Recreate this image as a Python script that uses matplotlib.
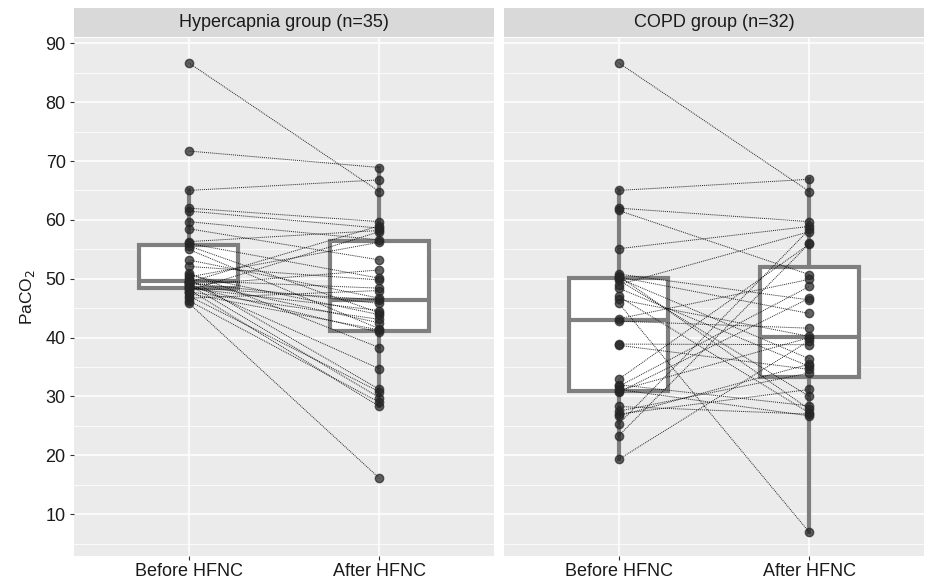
import numpy as np
import matplotlib
matplotlib.use("Agg")
from matplotlib import pyplot as plt

plt.rcParams['font.family'] = ['Liberation Sans', 'DejaVu Sans']

# 兩組病人，依病人順序配對 (Before -> After)
groups = ["Hypercapnia group (n=35)", "COPD group (n=32)"]
x_labels = ["Before HFNC", "After HFNC"]

hyper_before = [86.7, 71.7, 65.0, 62.0, 61.5, 59.7, 58.5, 56.3, 56.0, 55.6,
                55.0, 53.2, 52.1, 51.0, 50.6, 50.3, 50.0, 49.7, 49.5, 49.4,
                49.3, 49.2, 49.0, 48.9, 48.7, 48.5, 48.4, 48.2, 48.0, 47.8,
                47.5, 47.1, 46.7, 46.3, 45.9]
hyper_after = [64.8, 68.9, 66.8, 59.7, 58.6, 56.6, 53.2, 58.2, 50.1, 44.2,
               41.5, 46.7, 49.8, 38.3, 43.9, 56.2, 31.2, 48.4, 42.5, 59.0,
               45.8, 34.7, 29.8, 51.5, 40.9, 46.4, 44.6, 28.3, 58.0, 43.1,
               41.3, 30.8, 48.0, 29.0, 16.1]

copd_before = [86.7, 65.0, 62.0, 61.6, 55.1, 50.8, 50.5, 50.3, 50.1, 49.8,
               49.0, 48.4, 47.0, 46.5, 45.9, 43.2, 42.8, 38.9, 38.7, 32.9,
               32.0, 31.7, 31.2, 31.0, 30.7, 28.3, 27.5, 27.0, 26.7, 25.3,
               23.3, 19.3]
copd_after = [64.8, 66.9, 59.7, 50.7, 58.9, 46.4, 27.8, 44.1, 36.4, 30.0,
              58.0, 35.1, 27.2, 40.2, 6.9, 49.9, 41.6, 38.8, 34.6, 55.9,
              28.4, 48.7, 26.7, 40.0, 46.7, 27.0, 34.0, 31.2, 35.5, 58.4,
              56.0, 39.5]

data = [(hyper_before, hyper_after), (copd_before, copd_after)]

W, H = 925, 580
fig = plt.figure(figsize=(W / 100, H / 100), dpi=100)

panel_left = [74, 504]
panel_w = 420
panel_top, panel_bot = 38, 556
strip_top = 8

box_col = '#7f7f7f'
for k in range(2):
    ax = fig.add_axes([panel_left[k] / W, 1 - panel_bot / H,
                       panel_w / W, (panel_bot - panel_top) / H])
    ax.set_facecolor('#EBEBEB')
    for s in ax.spines.values():
        s.set_visible(False)

    before, after = data[k]
    b = np.array(before)
    a = np.array(after)

    ax.boxplot([b, a], positions=[1, 2], widths=0.52, whis=1.5,
               patch_artist=True, showfliers=False, showcaps=False,
               boxprops=dict(facecolor='white', edgecolor=box_col, linewidth=3.0),
               whiskerprops=dict(color=box_col, linewidth=3.0),
               medianprops=dict(color=box_col, linewidth=3.0),
               zorder=2)

    # 配對連線
    for yb, ya in zip(b, a):
        ax.plot([1, 2], [yb, ya], color='black', lw=0.7,
                linestyle=(0, (1, 1)), alpha=0.85, zorder=3)
    ax.plot(np.ones(len(b)), b, 'o', color='#262626', ms=6, alpha=0.72,
            mec='#262626', zorder=4)
    ax.plot(np.full(len(a), 2), a, 'o', color='#262626', ms=6, alpha=0.72,
            mec='#262626', zorder=4)

    ax.set_xlim(0.4, 2.6)
    ax.set_ylim(2.9, 90.9)
    ax.set_yticks(np.arange(10, 91, 10))
    ax.set_yticks(np.arange(5, 90, 10), minor=True)
    ax.set_xticks([1, 2])
    ax.set_xticklabels(x_labels, fontsize=13, color='#1a1a1a')
    ax.grid(True, which='major', color='white', lw=1.1, zorder=0)
    ax.grid(True, which='minor', axis='y', color='white', lw=0.55, zorder=0)
    ax.set_axisbelow(True)
    ax.tick_params(axis='x', length=3, color='#333333', pad=2)
    ax.tick_params(axis='y', which='minor', length=0)
    if k == 0:
        ax.tick_params(axis='y', which='major', length=3, color='#333333',
                       labelsize=13, labelcolor='#1a1a1a', pad=3)
        ax.set_ylabel('PaCO$_2$', fontsize=12.5, color='#1a1a1a', labelpad=6)
    else:
        ax.tick_params(axis='y', which='major', length=0, labelleft=False)

    # 標題條
    sax = fig.add_axes([panel_left[k] / W, 1 - (panel_top - 0.7) / H,
                        panel_w / W, (panel_top - 0.7 - strip_top) / H])
    sax.set_facecolor('#D9D9D9')
    sax.set_xticks([])
    sax.set_yticks([])
    for s in sax.spines.values():
        s.set_visible(False)
    sax.text(0.5, 0.5, groups[k], ha='center', va='center', fontsize=13,
             color='#1a1a1a', transform=sax.transAxes)

fig.savefig('out.png', dpi=100)
